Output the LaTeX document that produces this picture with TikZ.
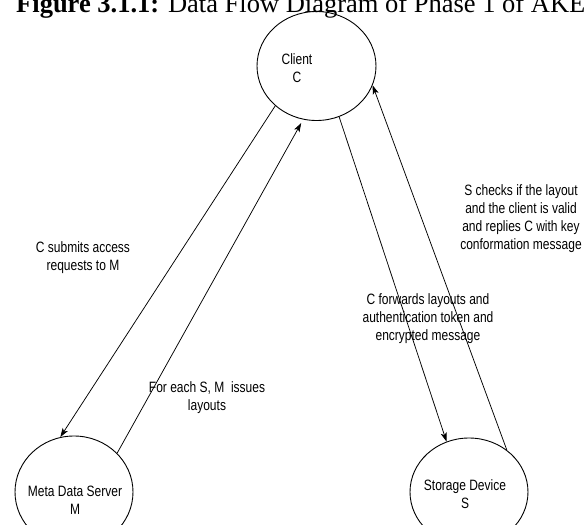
\documentclass[tikz,border=0pt]{standalone}
\usepackage{fontspec}
\setmainfont{Liberation Serif}
\newfontfamily\labelfont[FakeStretch=0.8]{Liberation Sans}
\usetikzlibrary{shapes.geometric,arrows.meta}

\begin{document}
\begin{tikzpicture}[x=1pt,y=-1pt,
  entity/.style={draw, ellipse, line width=0.9pt, inner sep=0pt},
  caption/.style={font=\labelfont\fontsize{15}{18}\selectfont, align=center, inner sep=0pt},
  flow/.style={draw, line width=0.75pt, -{Stealth[length=9pt,width=6pt,inset=2.2pt]}},
  heading/.style={font=\fontsize{26.5}{30}\selectfont, inner sep=0pt, anchor=base west}]

  \useasboundingbox (0,0) rectangle (587,525);

  % heading, partly above the page edge
  \node[heading] (title) at (16,12) {\textbf{Figure 3.1.1:} Data Flow Diagram of Phase 1 of AKE};

  % the three entities
  \node[entity, minimum width=119pt, minimum height=109pt] (client) at (316.5,66) {};
  \node[entity, minimum width=118pt, minimum height=112pt] (meta) at (74,492) {};
  \node[entity, minimum width=118pt, minimum height=108pt] (storage) at (469,492) {};

  \node[caption] (clientname) at (297,68) {Client\\C};
  \node[caption] (metaname) at (75,500) {Meta Data Server\\M};
  \node[caption] (storagename) at (465,494) {Storage Device\\S};

  % data flows
  \draw[flow] (client.224) -- (meta.104);
  \draw[flow, shorten >=4pt] (meta.42) -- (client.256);
  \draw[flow] (client.294) -- (storage.114);
  \draw[flow] (storage.48) -- (client.341);

  % flow descriptions
  \node[caption] (submit) at (83,258) {C submits access\\requests to M};
  \node[caption] (issue) at (207,398) {For each S, M\ \ issues\\layouts};
  \node[caption] (forward) at (428,319) {C forwards layouts and\\authentication token and\\encrypted message};
  \node[caption] (check) at (521,219) {S checks if the layout\\and the client is valid\\and replies C with key\\conformation message};
\end{tikzpicture}
\end{document}
